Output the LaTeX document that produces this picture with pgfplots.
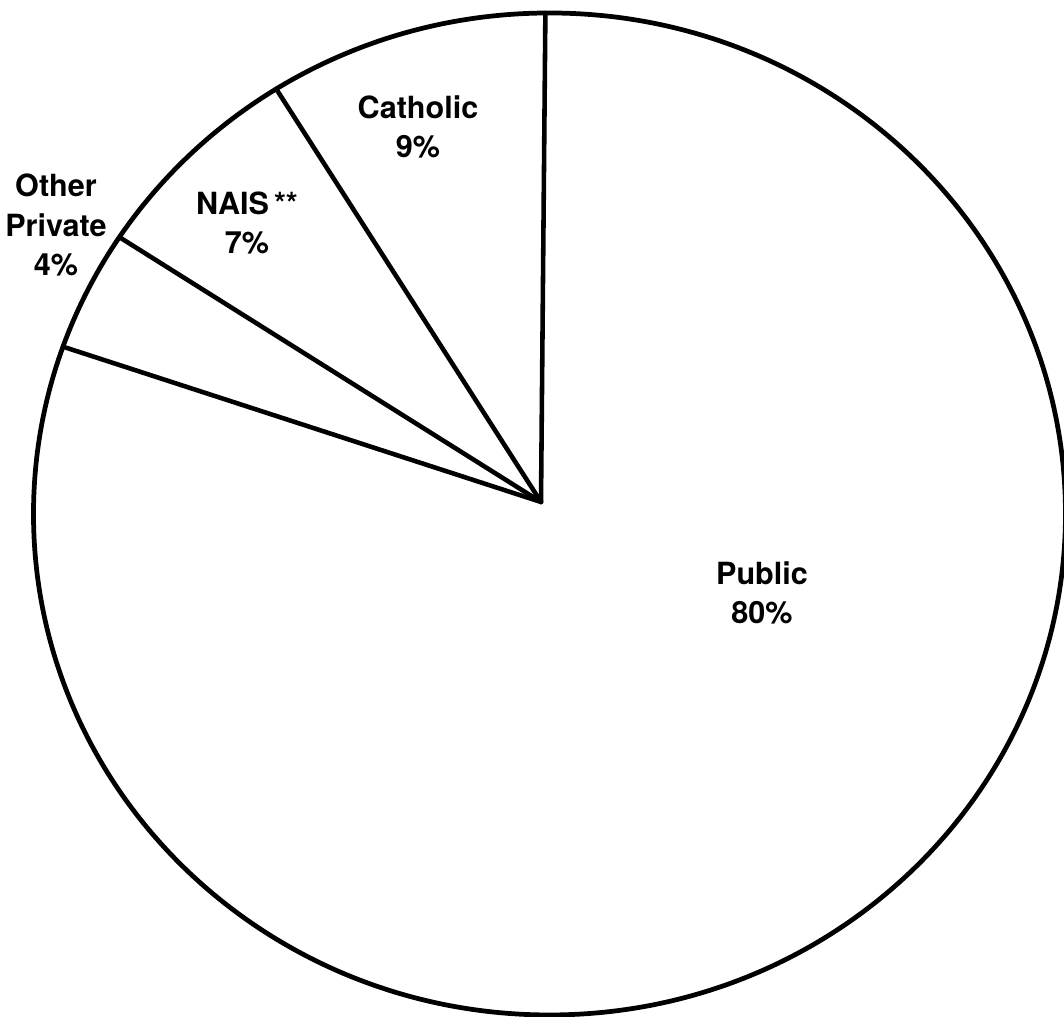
\documentclass[border=0pt]{standalone}
\usepackage{fontspec}
\setmainfont{TeX Gyre Heros}
\usepackage{pgfplots}
\usepackage{pgfplotstable}
\pgfplotsset{compat=1.18}

% Shares of enrolment (per cent), taken counter-clockwise from the vertical
\pgfplotstableread[col sep=comma]{
sector,value
Catholic,9
NAIS,7
Other Private,4
Public,80
}\sharetable

% Disc outline (centre and radii, axis units) and the hub where slices meet
\def\cx{549.5}\def\cy{503}\def\rx{516}\def\ry{501}
\def\hx{541}\def\hy{515}
\def\startangle{89.5}

% hub expressed in unit-circle coordinates of the outline
\pgfmathsetmacro\pu{(\hx-\cx)/\rx}
\pgfmathsetmacro\pv{(\hy-\cy)/\ry}

% cumulative share -> start angle of each slice -> ray reaching the outline
\pgfplotstablecreatecol[create col/expr accum={\pgfmathaccuma+\thisrow{value}}{0}]{cum}\sharetable
\pgfplotstablecreatecol[create col/expr={\startangle+3.6*(\thisrow{cum}-\thisrow{value})}]{ang}\sharetable
\pgfplotstablecreatecol[create col/expr={%
  -((\pu)*cos(\thisrow{ang})+(\pv)*sin(\thisrow{ang}))
  +sqrt(((\pu)*cos(\thisrow{ang})+(\pv)*sin(\thisrow{ang}))^2-(\pu)*(\pu)-(\pv)*(\pv)+1)}]{t}\sharetable
\pgfplotstablecreatecol[create col/expr={\rx*\thisrow{t}*cos(\thisrow{ang})}]{dx}\sharetable
\pgfplotstablecreatecol[create col/expr={\ry*\thisrow{t}*sin(\thisrow{ang})}]{dy}\sharetable

\begin{document}
\begin{tikzpicture}
\begin{axis}[
  name=pie,
  scale only axis,
  width=10.64cm, height=10.17cm,
  xmin=0, xmax=1064, ymin=0, ymax=1017,
  hide axis,
  clip=true,
]
  % outline of the disc
  \draw[line width=1.35pt] (axis cs:\cx,\cy) ellipse [x radius=\rx, y radius=\ry];
  % slice boundaries
  \addplot[black, line width=1.3pt, line cap=round,
    quiver={u=\thisrow{dx}, v=\thisrow{dy}}]
    table[x expr=\hx, y expr=\hy] {\sharetable};

  \begin{scope}[every node/.style={align=center,
      font=\bfseries\fontsize{8.7}{11.1}\selectfont}]
    \node at (axis cs:418,890) {Catholic\\9\%};
    \node at (axis cs:247,794) {NAIS\,**\\7\%};
    \node at (axis cs:56,792) {Other\\Private\\4\%};
    \node at (axis cs:762,424) {Public\\80\%};
  \end{scope}
\end{axis}
\pgfresetboundingbox
\path[use as bounding box] (pie.south west) rectangle (pie.north east);
\end{tikzpicture}
\end{document}
